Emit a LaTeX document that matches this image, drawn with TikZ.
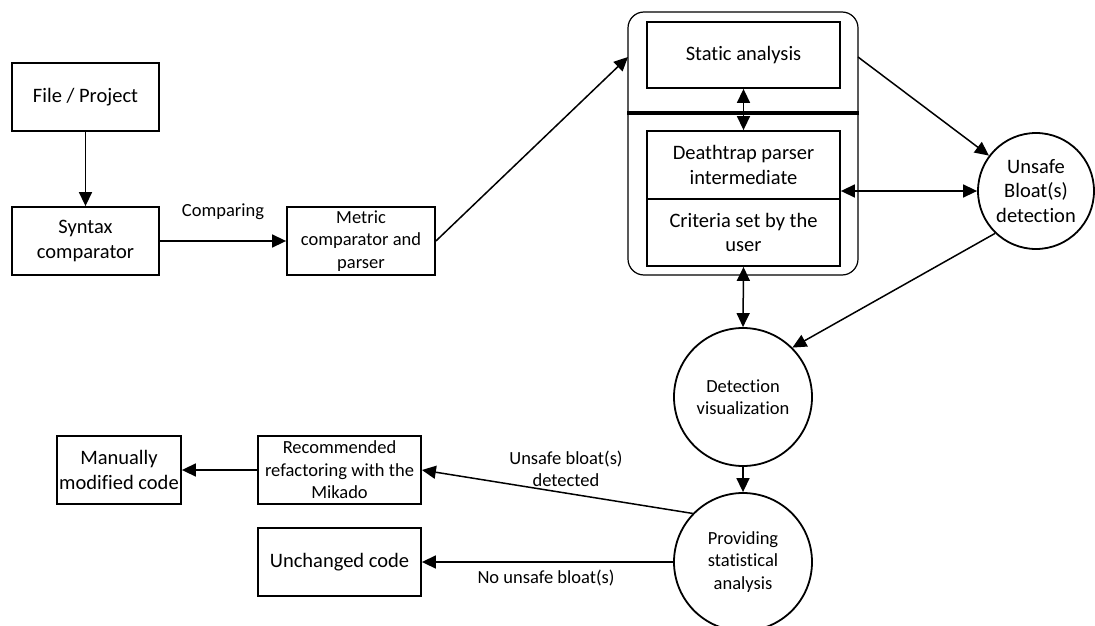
\documentclass[tikz,border=0pt]{standalone}
\usepackage{fontspec}
\setmainfont{Carlito}[RawFeature=-liga]
\usetikzlibrary{arrows.meta,calc}
\begin{document}
\begin{tikzpicture}[x=1pt,y=-1pt,
  big/.style={font=\fontsize{20.5}{24.5}\selectfont},
  small/.style={font=\fontsize{18.5}{22.5}\selectfont},
  box/.style={draw,line width=1.8pt,rectangle,inner sep=0pt,align=center},
  circ/.style={draw,line width=1.8pt,circle,inner sep=0pt,align=center},
  conn/.style={line width=1.5pt,-{Triangle[length=14pt,width=13pt]}},
  dconn/.style={line width=1.5pt,{Triangle[length=14pt,width=13pt]}-{Triangle[length=14pt,width=13pt]}},
  lbl/.style={small,inner sep=0pt,align=center}
]
\useasboundingbox (0,0) rectangle (1095,626);

% boxes
\node[box,big,minimum width=147pt,minimum height=68pt] (file) at (85.5,97) {File / Project};
\node[box,big,minimum width=147pt,minimum height=68pt] (syntax) at (85.5,241) {Syntax\\comparator};
\node[box,small,minimum width=148pt,minimum height=68pt] (metric) at (361,241) {Metric\\comparator and\\parser};

% container
\node[draw,line width=1.2pt,rounded corners=16pt,minimum width=230pt,minimum height=263pt,inner sep=0pt] (cont) at (743,143.5) {};
\node[box,big,minimum width=193pt,minimum height=66pt] (static) at (743.5,55) {Static analysis};
\node[box,big,minimum width=193pt,minimum height=68pt] (death) at (743.5,165) {Deathtrap parser\\intermediate};
\node[box,big,minimum width=193pt,minimum height=67pt] (crit) at (743.5,232.5) {Criteria set by the\\user};
\coordinate (sep) at (743,113);
\draw[line width=3.5pt] (cont.west |- sep) -- (cont.east |- sep);
\coordinate (cin) at (628,57);
\coordinate (cout) at (858,57);

% circles
\node[circ,big,minimum size=116pt] (unsafe) at (1036,191) {Unsafe\\Bloat(s)\\detection};
\node[circ,small,minimum size=138pt] (detect) at (743,397) {Detection\\visualization};
\node[circ,small,minimum size=138pt] (provide) at (743,562) {Providing\\statistical\\analysis};

% bottom boxes
\node[box,small,minimum width=163pt,minimum height=68pt] (recom) at (339.5,470) {Recommended\\refactoring with the\\Mikado};
\node[box,big,minimum width=124pt,minimum height=68pt] (manual) at (119,470) {Manually\\modified code};
\node[box,big,minimum width=163pt,minimum height=68pt] (unch) at (339.5,562) {Unchanged code};

% connectors
\draw[conn] (file) -- (syntax);
\draw[conn] (syntax) -- (metric);
\node[lbl] (cmp) at (223,212) {Comparing};
\draw[conn] (metric.east) -- (cin);
\draw[conn] (cout) -- (unsafe);
\draw[dconn] (static.south) -- (death.north);
\draw[dconn] (unsafe.west) -- (unsafe.west -| death.east);
\draw[dconn] (crit.south) -- (detect.north);
\draw[conn] (unsafe.226) -- (detect.45);
\draw[conn] (detect) -- (provide);
\draw[conn] (provide.136) -- (recom.east);
\node[lbl] (ul) at (566,469) {Unsafe bloat(s)\\detected};
\draw[conn] (provide.west) -- (unch.east);
\node[lbl] (nl) at (546,578) {No unsafe bloat(s)};
\draw[conn] (recom) -- (manual);
\end{tikzpicture}
\end{document}
